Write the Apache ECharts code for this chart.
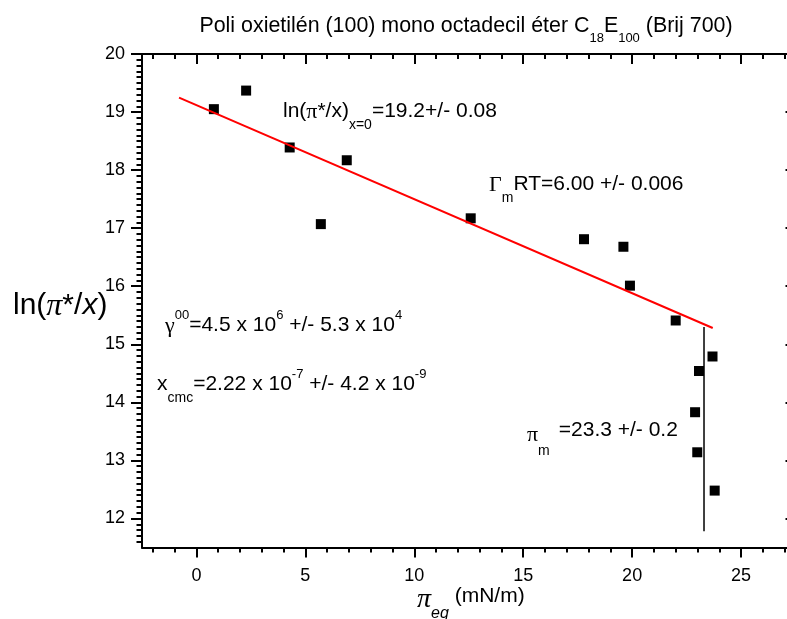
<!DOCTYPE html>
<html><head><meta charset="utf-8">
<script src="https://cdn.jsdelivr.net/npm/echarts@6/dist/echarts.min.js"></script>
<style>html,body{margin:0;padding:0;background:#fff}#c{width:787px;height:619px}</style>
</head><body><div id="c"></div>
<script>
// ---- data ----
const piEq    = [0.80, 2.28, 4.28, 5.71, 6.90, 12.59, 17.79, 19.60, 19.90, 22.00, 23.69, 23.07, 22.89, 22.99, 23.79];
const lnRatio = [19.05, 19.37, 18.39, 17.07, 18.17, 17.17, 16.81, 16.68, 16.01, 15.41, 14.79, 14.54, 13.83, 13.14, 12.48];
const fitX = [-0.8, 23.7];
const fitY = [19.25, 15.28];
const piMX = [23.3, 23.3];
const piMY = [15.30, 11.78];
const xTickLabels = [0, 5, 10, 15, 20, 25];
const yTickLabels = [12, 13, 14, 15, 16, 17, 18, 19, 20];
const xRange = [-2.5, 27.5];
const yRange = [11.5, 20];

const xMinor = []; for (let v = -2; v <= 27; v++) if (v % 5) xMinor.push(v);
const yMinor = []; for (let k = 116; k <= 199; k++) if (k % 10) yMinor.push(k / 10);

const F = 'Liberation Sans', S = 'Liberation Serif';

function xAx(pos, ticks, len, inside, showLine, labels) {
  return {type: 'value', position: pos, min: xRange[0], max: xRange[1],
    axisLine: {show: showLine, onZero: false, lineStyle: {color: '#000', width: 2}},
    axisTick: {show: true, inside: inside, length: len, customValues: ticks, lineStyle: {color: '#000', width: 2}},
    axisLabel: labels ? {show: true, customValues: xTickLabels, fontFamily: F, fontSize: 18, color: '#000', margin: 20} : {show: false},
    splitLine: {show: false}};
}
function yAx(pos, ticks, len, inside, showLine, labels) {
  return {type: 'value', position: pos, min: yRange[0], max: yRange[1],
    axisLine: {show: showLine, onZero: false, lineStyle: {color: '#000', width: 2}},
    axisTick: {show: true, inside: inside, length: len, customValues: ticks, lineStyle: {color: '#000', width: 2}},
    axisLabel: labels ? {show: true, customValues: yTickLabels, fontFamily: F, fontSize: 18, color: '#000', margin: 17} : {show: false},
    splitLine: {show: false}};
}

const base = {fontFamily: F, fontSize: 21, lineHeight: 24, padding: [6,0,0,0], verticalAlign: 'top', fill: '#000'};
const rich = {
  b: base,
  g: Object.assign({}, base, {fontFamily: S, fontSize: 22}),
  gl: Object.assign({}, base, {fontFamily: S, fontSize: 22, padding: [10,0,0,0]}),
  sb: {fontFamily: F, fontSize: 14, lineHeight: 14, padding: [23,0,0,0], verticalAlign: 'top', fill: '#000'},
  sb2: {fontFamily: F, fontSize: 14, lineHeight: 14, padding: [30,9,0,0], verticalAlign: 'top', fill: '#000'},
  sp: {fontFamily: F, fontSize: 13, lineHeight: 13, padding: [0,0,0,0], verticalAlign: 'top', fill: '#000'}
};
function note(x, y, text) {
  return {type: 'text', x: x, y: y, style: {text: text, rich: rich, align: 'left', verticalAlign: 'top', textAlign: 'left', textVerticalAlign: 'top'}};
}

const chart = echarts.init(document.getElementById('c'), null, {renderer: 'canvas'});
chart.setOption({
  backgroundColor: '#fff',
  animation: false,
  grid: {left: 142, top: 54, width: 653.5, height: 493.5, containLabel: false, outerBoundsMode: 'none'},
  xAxis: [
    xAx('bottom', xTickLabels, 10, false, true, true),
    xAx('bottom', xMinor, 5, false, false, false),
    xAx('top', xTickLabels, 10, true, true, false),
    xAx('top', xMinor, 5, true, false, false)
  ],
  yAxis: [
    yAx('left', yTickLabels, 11, false, true, true),
    yAx('left', yMinor, 5.5, false, false, false),
    yAx('right', yTickLabels, 10, true, true, false),
    yAx('right', yMinor, 5, true, false, false)
  ],
  series: [
    {type: 'line', xAxisIndex: 0, yAxisIndex: 0, data: fitX.map((x, i) => [x, fitY[i]]),
     showSymbol: false, symbol: 'none', lineStyle: {color: '#ff0000', width: 2}, silent: true},
    {type: 'line', xAxisIndex: 0, yAxisIndex: 0, data: piMX.map((x, i) => [x, piMY[i]]),
     showSymbol: false, symbol: 'none', lineStyle: {color: '#000', width: 1.5}, silent: true},
    {type: 'scatter', xAxisIndex: 0, yAxisIndex: 0, data: piEq.map((x, i) => [x, lnRatio[i]]),
     symbol: 'rect', symbolSize: 10, itemStyle: {color: '#000', opacity: 1}}
  ],
  graphic: [
    {type: 'text', x: 466, y: 16, style: {
      text: '{t|Poli oxietilén (100) mono octadecil éter C}{ts|18}{t|E}{ts|100}{t| (Brij 700)}',
      align: 'center', textAlign: 'center', verticalAlign: 'top', textVerticalAlign: 'top',
      rich: {
        t: {fontFamily: F, fontSize: 21.4, lineHeight: 26, verticalAlign: 'top', fill: '#000'},
        ts: {fontFamily: F, fontSize: 13, lineHeight: 13, padding: [16,0,0,0], verticalAlign: 'top', fill: '#000'}
      }}},
    note(283, 95, '{b|ln(}{g|π}{b|*/x)}{sb|x=0}{b|=19.2+/- 0.08}'),
    note(489, 168, '{g|Γ}{sb|m}{b|RT=6.00 +/- 0.006}'),
    note(165, 309, '{g|γ}{sp|00}{b|=4.5 x 10}{sp|6}{b| +/- 5.3 x 10}{sp|4}'),
    note(157, 368, '{b|x}{sb|cmc}{b|=2.22 x 10}{sp|-7}{b| +/- 4.2 x 10}{sp|-9}'),
    note(527, 414, '{gl|π}{sb2|m}{b|=23.3 +/- 0.2}'),
    {type: 'text', x: 13, y: 291, style: {
      text: '{a|ln(}{p|π}{a|*/}{i|x}{a|)}',
      align: 'left', verticalAlign: 'top', textAlign: 'left', textVerticalAlign: 'top',
      rich: {
        a: {fontFamily: F, fontSize: 30, lineHeight: 36, verticalAlign: 'top', fill: '#000'},
        p: {fontFamily: S, fontStyle: 'italic', fontSize: 32, lineHeight: 36, verticalAlign: 'top', fill: '#000'},
        i: {fontFamily: F, fontStyle: 'italic', fontSize: 30, lineHeight: 36, verticalAlign: 'top', fill: '#000'}
      }}},
    {type: 'text', x: 417, y: 586, style: {
      text: '{p|π}{s|eq}{a| (mN/m)}',
      align: 'left', verticalAlign: 'top', textAlign: 'left', textVerticalAlign: 'top',
      rich: {
        p: {fontFamily: S, fontStyle: 'italic', fontSize: 28, lineHeight: 28, verticalAlign: 'top', fill: '#000'},
        s: {fontFamily: F, fontStyle: 'italic', fontSize: 16, lineHeight: 16, padding: [20,0,0,0], verticalAlign: 'top', fill: '#000'},
        a: {fontFamily: F, fontSize: 21, lineHeight: 28, verticalAlign: 'top', fill: '#000'}
      }}}
  ]
});
</script></body></html>
